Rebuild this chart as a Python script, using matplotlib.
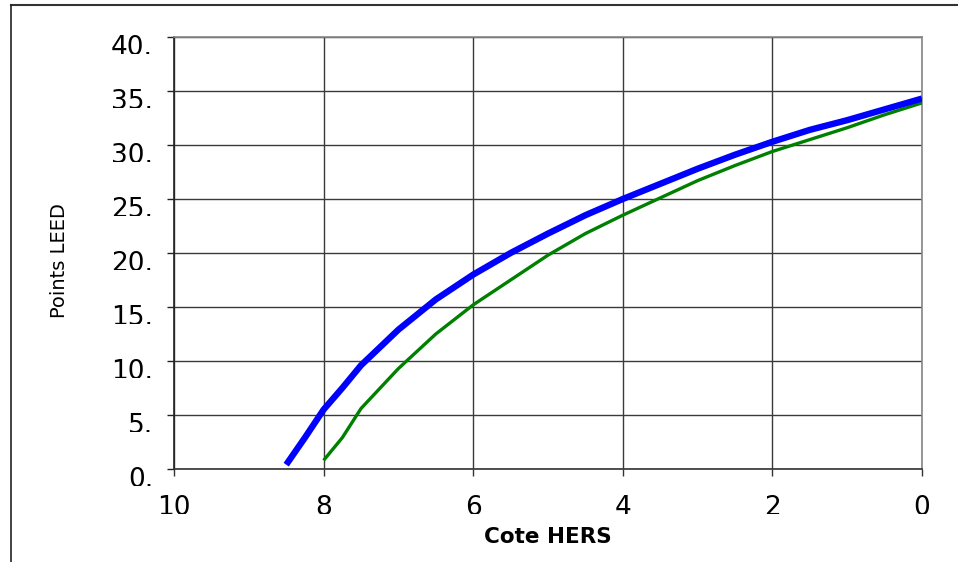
import matplotlib
matplotlib.use('Agg')
import matplotlib.pyplot as plt
from matplotlib.lines import Line2D
from matplotlib.transforms import Bbox, ScaledTranslation

# Cote HERS values
hers_blue = [8.5, 8.25, 8.0, 7.75, 7.5, 7.0, 6.5, 6.0, 5.5, 5.0, 4.5, 4.0, 3.5, 3.0, 2.5, 2.0, 1.5, 1.0, 0.5, 0.0]
leed_blue = [0.4, 2.9, 5.5, 7.5, 9.6, 12.9, 15.7, 18.0, 20.0, 21.8, 23.5, 25.0, 26.4, 27.8, 29.1, 30.3, 31.4, 32.3, 33.3, 34.3]

hers_green = [8.0, 7.75, 7.5, 7.0, 6.5, 6.0, 5.5, 5.0, 4.5, 4.0, 3.5, 3.0, 2.5, 2.0, 1.5, 1.0, 0.5, 0.0]
leed_green = [0.8, 2.9, 5.6, 9.3, 12.5, 15.2, 17.5, 19.8, 21.8, 23.5, 25.1, 26.7, 28.1, 29.4, 30.5, 31.6, 32.8, 33.9]

xticks = [10, 8, 6, 4, 2, 0]
yticks = [0, 5, 10, 15, 20, 25, 30, 35, 40]
ytick_labels = ['0.', '5.', '10.', '15.', '20.', '25.', '30.', '35.', '40.']

W, H = 958, 562
fig = plt.figure(figsize=(W / 100, H / 100), dpi=100)
ax = fig.add_axes([174 / W, 1 - 469 / H, (922 - 174) / W, (469 - 37) / H])

ax.plot(hers_green, leed_green, color='#008000', lw=2.4, zorder=3, solid_capstyle='butt')
ax.plot(hers_blue, leed_blue, color='#0000ff', lw=4.6, zorder=4, solid_capstyle='butt')

ax.set_xlim(10, 0)
ax.set_ylim(0, 40)
ax.set_xticks(xticks)
ax.set_yticks(yticks)
ax.set_yticklabels(ytick_labels)
ax.grid(True, color='#3a3a3a', lw=1.0)
ax.set_axisbelow(True)

for s in ['top', 'right']:
    ax.spines[s].set_color('#888888')
ax.spines['left'].set_color('#222222')
ax.spines['bottom'].set_color('#333333')
for s in ax.spines.values():
    s.set_linewidth(1.2)

ax.tick_params(axis='y', direction='out', length=5, width=1, labelsize=19, pad=10, colors='#222222', labelcolor='black')
ax.tick_params(axis='x', direction='out', length=5, width=1, labelsize=19, pad=14, colors='#333333', labelcolor='black')

ax.set_ylabel('Points LEED', fontsize=14)
ax.yaxis.set_label_coords(-0.14, 0.483)
ax.set_xlabel('Cote HERS', fontsize=15.5, fontweight='bold', va='center')
ax.xaxis.set_label_coords(0.5, -0.158)

# y tick labels sit a little below their ticks
shift = ScaledTranslation(0, -6 / 72, fig.dpi_scale_trans)
for lab in ax.get_yticklabels():
    lab.set_transform(lab.get_transform() + shift)

# frame around the figure (top and left edges)
fig.add_artist(Line2D([11 / W, 1], [1 - 5 / H, 1 - 5 / H], color='#333333', lw=1.5, transform=fig.transFigure))
fig.add_artist(Line2D([11 / W, 11 / W], [0, 1 - 5 / H], color='#222222', lw=1.2, transform=fig.transFigure))

# clip the bottom of the tick labels like in the original
fig.canvas.draw()
r = fig.canvas.get_renderer()
for lab in ax.get_yticklabels() + ax.get_xticklabels():
    bb = lab.get_window_extent(r)
    h = bb.height
    clip = Bbox.from_extents(bb.x0 - 10, bb.y0 + 0.29 * h, bb.x1 + 10, bb.y1 + 10)
    lab.set_clip_box(clip)
    lab.set_clip_on(True)

fig.savefig('out.png', dpi=100)
